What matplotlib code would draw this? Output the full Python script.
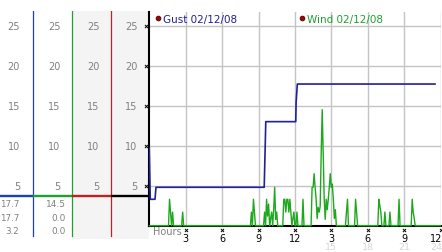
import matplotlib
matplotlib.use("Agg")
import matplotlib.pyplot as plt
from matplotlib.lines import Line2D
from matplotlib.transforms import ScaledTranslation
import numpy as np

# ---------------- data ----------------
gust_label = "Gust 02/12/08"
wind_label = "Wind 02/12/08"

# gust series (hours, value)
gust_hours = [0.0, 0.08, 0.47, 0.55, 9.47, 9.50, 9.56, 9.60, 12.07, 12.10, 12.20, 23.55]
gust_vals = [9.7, 3.3, 3.3, 4.8, 4.8, 6.7, 10.4, 13.0, 13.0, 15.4, 17.7, 17.7]

# wind series (minutes since midnight, value)
wind_min = [0,
            95, 100, 105, 110, 115, 120,
            160, 165, 170,
            500, 505, 510, 515, 520, 525,
            565, 570, 575, 580, 585, 590, 595, 600, 605, 610, 615, 620, 625, 630, 635,
            660, 665, 670, 675, 680, 685, 690, 695, 700, 705, 710, 715, 720, 725, 730, 735,
            755, 760, 765,
            800, 805, 810, 815, 820, 825, 830, 835, 840, 845, 850, 855, 860, 865, 870, 875,
            880, 885, 890, 895, 900, 905, 910, 915, 920, 925,
            970, 975, 980, 985,
            1015, 1020, 1025, 1030,
            1130, 1135, 1140, 1145, 1150, 1160, 1165, 1170, 1185, 1190, 1195,
            1230, 1235, 1240,
            1295, 1300, 1305, 1310, 1315,
            1440]
wind_vals = [0,
             0, 3.3, 1.7, 0, 1.7, 0,
             0, 1.7, 0,
             0, 1.7, 0, 3.3, 1.7, 0,
             0, 1.7, 0, 3.3, 1.2, 2.7, 0, 0.9, 1.7, 0, 2.0, 4.8, 0.8, 1.7, 0,
             0, 3.3, 3.3, 1.7, 3.3, 3.3, 1.7, 3.3, 1.7, 0, 0.9, 1.7, 0, 0, 1.7, 0,
             0, 3.3, 0,
             0, 4.8, 4.8, 6.5, 4.8, 3.3, 0.9, 2.3, 1.7, 2.4, 9.0, 14.5, 9.0, 3.3, 0.8, 3.3,
             2.0, 3.3, 4.8, 6.5, 4.8, 5.2, 3.3, 0.9, 2.0, 0,
             0, 1.7, 3.3, 0,
             0, 3.3, 1.7, 0,
             0, 3.3, 2.5, 1.7, 0, 0, 1.7, 0, 0, 1.7, 0,
             0, 3.3, 0,
             0, 3.3, 1.7, 0.9, 0,
             0]

gust_stats = ["17.7", "17.7", "3.2"]
wind_stats = ["14.5", "0.0", "0.0"]
cursor_level = 3.75

scale_values = [5, 10, 15, 20, 25]
hour_ticks = [3, 6, 9, 12, 15, 18, 21, 24]
clock_labels = ["3", "6", "9", "12", "3", "6", "9", "12"]
late_ticks = [15, 18, 21, 24]
late_labels = ["15", "18", "21", "24"]

# ---------------- styling ----------------
GUST_C = "#20209a"
WIND_C = "#1ea81e"
BLUE_C = "#1a40c0"
GREEN_C = "#20a030"
RED_C = "#c02020"
GRID_C = "#c4c4c4"
LBL_C = "#808080"
FS = 7

W, H = 442, 253
fig = plt.figure(figsize=(W / 100, H / 100), dpi=100)
fig.patch.set_facecolor("white")


def rect(x0, y0, x1, y1):
    return [x0 / W, 1 - y1 / H, (x1 - x0) / W, (y1 - y0) / H]


AX_L, AX_R, AX_T, AX_B = 149.3, 440.5, 13.0, 226.7
Y_TOP = 26.7
px_per_unit = (AX_B - AX_T) / Y_TOP


def val_at(px):
    return (AX_B - px) / px_per_unit


# ---------------- left panel ----------------
P_T, P_B = 12.0, 240.0
pax = fig.add_axes(rect(0, P_T, AX_L, P_B))
pax.set_xlim(0, AX_L)
pax.set_ylim(val_at(P_B), val_at(P_T))
pax.axis("off")
pax.axvspan(72.5, AX_L, color="#f4f4f4", lw=0, zorder=0)
line_bottom = (P_B - 237) / (P_B - P_T)
for xc, c in [(33.3, BLUE_C), (72.3, GREEN_C), (111.0, RED_C)]:
    pax.axvline(xc, ymin=line_bottom, ymax=1, color=c, lw=0.9, zorder=2)

for xr in [20.0, 60.7, 99.3, 137.3]:
    for v in scale_values:
        pax.text(xr, v, str(v), ha="right", va="center", fontsize=FS, color=LBL_C)

seg_x0 = [0, 33.3, 72.3, 111.0]
seg_x1 = [33.3, 72.3, 111.0, AX_L + 1]
pax.hlines([cursor_level] * 4, seg_x0, seg_x1,
           colors=[BLUE_C, GREEN_C, RED_C, "black"], lw=1.7, zorder=3)

row_px = [205.0, 218.5, 231.5]
for s, ypx in zip(gust_stats, row_px):
    pax.text(19.5, val_at(ypx), s, ha="right", va="center", fontsize=6.3, color=LBL_C)
for s, ypx in zip(wind_stats, row_px):
    pax.text(66.0, val_at(ypx), s, ha="right", va="center", fontsize=6.5, color=LBL_C)

# ---------------- main axes ----------------
ax = fig.add_axes(rect(AX_L, AX_T, AX_R, AX_B))
ax.set_xlim(0, 24)
ax.set_ylim(0, Y_TOP)
ax.set_facecolor("white")
for s in ["top", "right"]:
    ax.spines[s].set_visible(False)
for s in ["left", "bottom"]:
    ax.spines[s].set_color("black")
    ax.spines[s].set_linewidth(1.5)

ax.set_xticks(hour_ticks)
ax.set_xticklabels(clock_labels)
ax.set_yticks(scale_values)
ax.set_yticklabels([])
ax.tick_params(axis="both", length=0)
ax.tick_params(axis="x", pad=5.0, labelsize=FS, labelcolor="black")
ax.grid(True, color=GRID_C, lw=1.0)
ax.set_axisbelow(True)

# keep the last hour label inside the picture
shift = ScaledTranslation(-4 / 100, 0, fig.dpi_scale_trans)
last_lbl = ax.get_xticklabels()[-1]
last_lbl.set_transform(last_lbl.get_transform() + shift)

wind_hours = np.array(wind_min) / 60.0
ax.plot(wind_hours, wind_vals, color=WIND_C, lw=1.0, zorder=3, clip_on=False)
ax.plot(gust_hours, gust_vals, color=GUST_C, lw=1.2, zorder=4)

# small tick markers
ax.scatter([-0.25] * len(scale_values), scale_values, marker="x", s=5,
           color="black", lw=0.7, clip_on=False, zorder=5)
ax.scatter(hour_ticks, [-0.55] * len(hour_ticks), marker="x", s=5,
           color="black", lw=0.7, clip_on=False, zorder=5)

for t, lab in zip(late_ticks, late_labels):
    dx = -3.0 if t == 24 else 0.0
    ax.annotate(lab, xy=(t, 0), xytext=(dx, -15.0), textcoords="offset points",
                ha="center", va="center", fontsize=6.8, color="#d6d6d6",
                annotation_clip=False)
ax.annotate("Hours", xy=(0, 0), xytext=(2.6, -4.0), textcoords="offset points",
            ha="left", va="center", fontsize=FS, color=LBL_C, annotation_clip=False)

# legend
handles = [Line2D([], [], ls="", marker="o", ms=3.4, mfc="#b00000", mec="#400000", mew=0.6)
           for _ in range(2)]
leg = ax.legend(handles, [gust_label, wind_label], ncol=2, frameon=False,
                loc="center left", bbox_to_anchor=(155 / W, 1 - 20 / H),
                bbox_transform=fig.transFigure, fontsize=7.5, borderpad=0,
                borderaxespad=0, handlelength=0.5, handletextpad=0.25,
                columnspacing=6.0)
for txt, c in zip(leg.get_texts(), [GUST_C, GREEN_C]):
    txt.set_color(c)

fig.savefig("out.png", dpi=100, facecolor="white")
